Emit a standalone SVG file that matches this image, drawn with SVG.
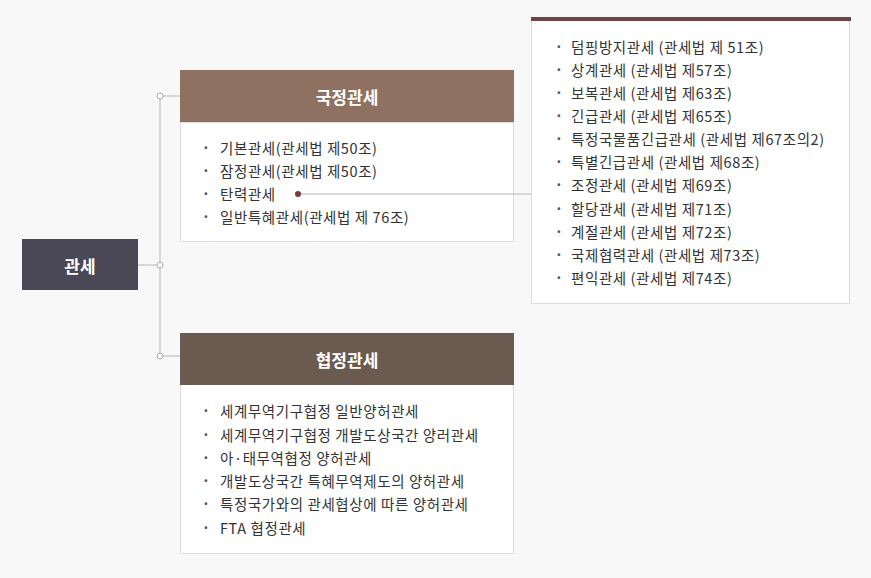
<svg xmlns="http://www.w3.org/2000/svg" width="871" height="578" viewBox="0 0 871 578">
<style>
.t{font-family:"Noto Sans CJK KR","Noto Sans",sans-serif;font-size:14.5px;letter-spacing:0.6px;fill:#333;dominant-baseline:central}
.b{font-family:"Noto Sans CJK KR","Noto Sans",sans-serif;font-size:14px;font-weight:bold;fill:#555;text-anchor:middle;dominant-baseline:central}
.h{font-family:"Noto Sans CJK KR","Noto Sans",sans-serif;font-size:17px;font-weight:bold;fill:#fff;text-anchor:middle;dominant-baseline:central}
.body{fill:#fff;stroke:#dcdcdc;stroke-width:1}
.ln{stroke:#b5b5b5;stroke-width:1;fill:none}
.c{fill:#fff;stroke:#a8a8a8;stroke-width:1}
</style>
<rect width="871" height="578" fill="#f8f8f8"/>
<g id="root">
<rect x="22" y="239" width="116" height="51" fill="#4a4856"/>
<text class="h" x="80" y="265">관세</text>
</g>
<g id="national">
<rect class="body" x="180.5" y="122.5" width="333" height="119"/>
<rect x="180" y="70" width="334" height="52" fill="#8f7161"/>
<text class="h" x="347" y="96">국정관세</text>
<text class="b" x="206" y="147">·</text><text class="t" x="220" y="147">기본관세(관세법 제50조)</text>
<text class="b" x="206" y="170">·</text><text class="t" x="220" y="170">잠정관세(관세법 제50조)</text>
<text class="b" x="206" y="193">·</text><text class="t" x="220" y="193">탄력관세</text>
<text class="b" x="206" y="216">·</text><text class="t" x="220" y="216">일반특혜관세(관세법 제 76조)</text>
</g>
<g id="flexible">
<rect class="body" x="531.5" y="19.5" width="318" height="284"/>
<rect x="531" y="17" width="320" height="4" fill="#6e4545"/>
<text class="b" x="559" y="46">·</text><text class="t" x="571" y="46">덤핑방지관세 (관세법 제 51조)</text>
<text class="b" x="559" y="69">·</text><text class="t" x="571" y="69">상계관세 (관세법 제57조)</text>
<text class="b" x="559" y="92">·</text><text class="t" x="571" y="92">보복관세 (관세법 제63조)</text>
<text class="b" x="559" y="115">·</text><text class="t" x="571" y="115">긴급관세 (관세법 제65조)</text>
<text class="b" x="559" y="138">·</text><text class="t" x="571" y="138">특정국물품긴급관세 (관세법 제67조의2)</text>
<text class="b" x="559" y="161">·</text><text class="t" x="571" y="161">특별긴급관세 (관세법 제68조)</text>
<text class="b" x="559" y="184">·</text><text class="t" x="571" y="184">조정관세 (관세법 제69조)</text>
<text class="b" x="559" y="208">·</text><text class="t" x="571" y="208">할당관세 (관세법 제71조)</text>
<text class="b" x="559" y="231">·</text><text class="t" x="571" y="231">계절관세 (관세법 제72조)</text>
<text class="b" x="559" y="254">·</text><text class="t" x="571" y="254">국제협력관세 (관세법 제73조)</text>
<text class="b" x="559" y="277">·</text><text class="t" x="571" y="277">편익관세 (관세법 제74조)</text>
</g>
<g id="agreement">
<rect class="body" x="180.5" y="384.5" width="333" height="169"/>
<rect x="180" y="333" width="334" height="52" fill="#6b5a4f"/>
<text class="h" x="347" y="359">협정관세</text>
<text class="b" x="206" y="410">·</text><text class="t" x="220" y="410">세계무역기구협정 일반양허관세</text>
<text class="b" x="206" y="434">·</text><text class="t" x="220" y="434">세계무역기구협정 개발도상국간 양러관세</text>
<text class="b" x="206" y="457">·</text><text class="t" x="220" y="457">아·태무역협정 양허관세</text>
<text class="b" x="206" y="480">·</text><text class="t" x="220" y="480">개발도상국간 특혜무역제도의 양허관세</text>
<text class="b" x="206" y="503">·</text><text class="t" x="220" y="503">특정국가와의 관세협상에 따른 양허관세</text>
<text class="b" x="206" y="527">·</text><text class="t" x="220" y="527">FTA 협정관세</text>
</g>
<g id="connectors">
<line class="ln" x1="160" y1="96" x2="160" y2="356"/>
<line class="ln" x1="138" y1="265" x2="157" y2="265"/>
<line class="ln" x1="163" y1="96" x2="180" y2="96"/>
<line class="ln" x1="163" y1="356" x2="180" y2="356"/>
<circle class="c" cx="160" cy="96" r="3"/>
<circle class="c" cx="160" cy="265" r="3"/>
<circle class="c" cx="160" cy="356" r="3"/>
<line class="ln" x1="298" y1="194" x2="531" y2="194"/>
<circle cx="298" cy="194" r="3" fill="#7a3b3b"/>
</g>
</svg>
